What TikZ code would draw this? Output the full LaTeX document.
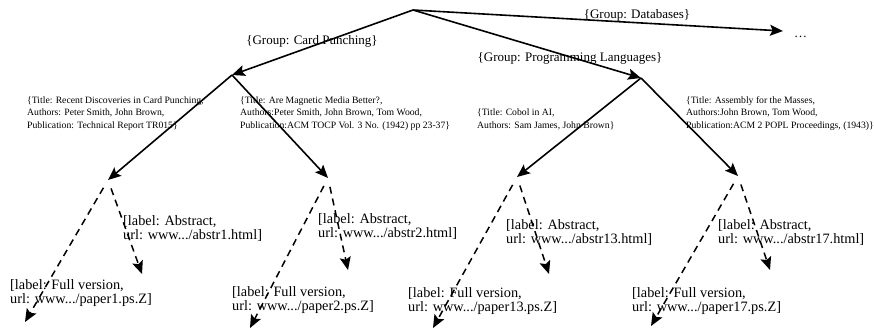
\documentclass[tikz,border=0pt]{standalone}
\usepackage{fontspec}
\setmainfont{Liberation Serif}
\usetikzlibrary{arrows.meta}

\begin{document}
\begin{tikzpicture}[x=1pt, y=-1pt,
		edge/.style={line width=1.6pt, -{Stealth[length=13pt, width=11pt, inset=2.5pt]}},
		leaf/.style={line width=1.5pt, dash pattern=on 7pt off 5pt, shorten <=9pt, -{Stealth[length=13pt, width=11pt, inset=2.5pt]}},
		grouplbl/.style={anchor=base, inner sep=0pt, font=\fontsize{13}{13}\selectfont},
		paperlbl/.style={anchor=base west, inner sep=0pt, align=left, font=\fontsize{9.7}{12.5}\selectfont},
		linklbl/.style={anchor=base west, inner sep=0pt, align=left, font=\fontsize{14.3}{14}\selectfont}]
		\useasboundingbox (0,0) rectangle (874,332);
		\draw (413,10) coordinate (root)
		(232,75) coordinate (g1)
		(641,78) coordinate (g2)
		(783,31) coordinate (g3)
		(108,180) coordinate (p1)
		(328,178) coordinate (p2)
		(517,177) coordinate (p3)
		(738,176) coordinate (p4)
		(142,274) coordinate (a1)
		(348,270) coordinate (a2)
		(549,274) coordinate (a3)
		(770,270) coordinate (a4)
		(25,322) coordinate (f1)
		(250,328) coordinate (f2)
		(433,328) coordinate (f3)
		(651,326) coordinate (f4);

		\draw (312,44.5) node[grouplbl] (lg1) {\{Group: Card Punching\}}
		(570,61.5) node[grouplbl] (lg2) {\{Group: Programming Languages\}}
		(637,18.5) node[grouplbl] (lg3) {\{Group: Databases\}}
		(794,37) node[grouplbl, anchor=base west] (more) {\dots}
		(27,128) node[paperlbl] (t1) {\{Title: Recent Discoveries in Card Punching,\\ Authors: Peter Smith, John Brown,\\ Publication: Technical Report TR015\}}
		(240,128) node[paperlbl] (t2) {\{Title: Are Magnetic Media Better?,\\ Authors:Peter Smith, John Brown, Tom Wood,\\ Publication:ACM TOCP Vol. 3 No. (1942) pp 23-37\}}
		(477,128) node[paperlbl] (t3) {\{Title: Cobol in AI,\\ Authors: Sam James, John Brown\}}
		(686,128) node[paperlbl] (t4) {\{Title: Assembly for the Masses,\\ Authors:John Brown, Tom Wood,\\ Publication:ACM 2 POPL Proceedings, (1943)\}}
		(123,239) node[linklbl] (la1) {[label: Abstract,\\ url: www.../abstr1.html]}
		(318,237) node[linklbl] (la2) {[label: Abstract,\\ url: www.../abstr2.html]}
		(506,243) node[linklbl] (la3) {[label: Abstract,\\ url: www.../abstr13.html]}
		(718,243) node[linklbl] (la4) {[label: Abstract,\\ url: www.../abstr17.html]}
		(10,303) node[linklbl] (lf1) {[label: Full version,\\ url: www.../paper1.ps.Z]}
		(232,310) node[linklbl] (lf2) {[label: Full version,\\ url: www.../paper2.ps.Z]}
		(408,311) node[linklbl] (lf3) {[label: Full version,\\ url: www.../paper13.ps.Z]}
		(632,311) node[linklbl] (lf4) {[label: Full version,\\ url: www.../paper17.ps.Z]};

		\draw[edge] (root) -- (g1);
		\draw[edge] (root) -- (g2);
		\draw[edge] (root) -- (g3);
		\draw[edge] (g1) -- (p1);
		\draw[edge] (g1) -- (p2);
		\draw[edge] (g2) -- (p3);
		\draw[edge] (g2) -- (p4);
		\draw[leaf] (p1) -- (a1);
		\draw[leaf] (p1) -- (f1);
		\draw[leaf] (p2) -- (a2);
		\draw[leaf] (p2) -- (f2);
		\draw[leaf] (p3) -- (a3);
		\draw[leaf] (p3) -- (f3);
		\draw[leaf] (p4) -- (a4);
		\draw[leaf] (p4) -- (f4);
	\end{tikzpicture}
\end{document}
